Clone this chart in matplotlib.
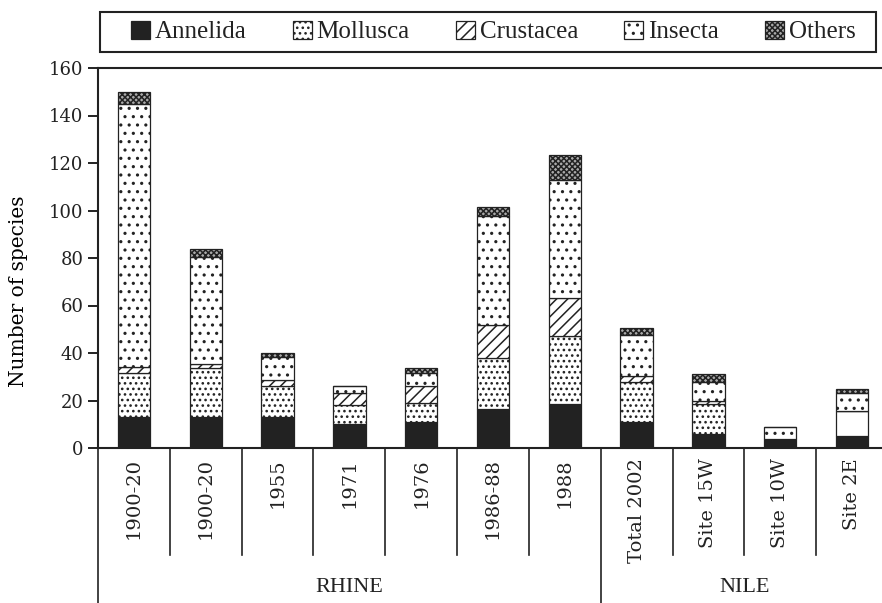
import numpy as np
import matplotlib
matplotlib.use('Agg')
import matplotlib.pyplot as plt
from matplotlib.patches import Rectangle

plt.rcParams.update({'font.family': 'serif',
                     'font.serif': ['DejaVu Serif', 'Liberation Serif'],
                     'hatch.linewidth': 1.1,
                     'text.color': '#222222',
                     'axes.edgecolor': '#222222',
                     'xtick.color': '#222222',
                     'ytick.color': '#222222'})

# data
samples = ['1900-20', '1900-20', '1955', '1971', '1976', '1986-88', '1988',
           'Total 2002', 'Site 15W', 'Site 10W', 'Site 2E']
rivers = ['RHINE', 'NILE']
river_sizes = [7, 4]
annelida = [13, 13, 13, 10, 11, 16.5, 18.5, 11, 6, 4, 5]
mollusca = [18.5, 20.5, 13, 8, 8, 21.5, 28.5, 17, 12.5, 0, 10.5]
crustacea = [2.5, 2, 2.5, 5, 7, 14, 16, 2.5, 1.5, 0, 0]
insecta = [111, 45, 10, 3, 5.5, 45.5, 50, 17, 8, 5, 7.5]
others = [5, 3.5, 1.5, 0, 2, 4, 10.5, 3, 3, 0, 2]

series = [('Annelida', annelida, '#222222', ''),
          ('Mollusca', mollusca, 'white', '...'),
          ('Crustacea', crustacea, 'white', '///'),
          ('Insecta', insecta, 'white', '..'),
          ('Others', others, '#aaaaaa', 'xxxxxx')]

narrow = 'Liberation Serif'

fig = plt.figure(figsize=(8.82, 6.03), dpi=100)
ax = fig.add_axes([98/882, 155/603, 790/882, 380/603])

x = np.arange(len(samples))
bottom = np.zeros(len(samples))
handles = []
for name, vals, fc, hatch in series:
    vals = np.array(vals, dtype=float)
    bars = ax.bar(x, vals, 0.45, bottom=bottom, color=fc, edgecolor='#222222',
                  hatch=hatch, linewidth=0.9, label=name)
    handles.append(bars)
    bottom += vals

# the Site 2E mollusc block is left blank in the original
handles[1][10].set_hatch('')

ax.set_xlim(-0.5, len(samples) - 0.5)
ax.set_ylim(0, 160)
ax.set_yticks(np.arange(0, 161, 20))
ax.set_ylabel('Number of species', fontsize=14.5)
ax.yaxis.set_label_coords(-0.089, 0.413)
ax.tick_params(axis='y', labelsize=13, length=7, width=1.4, direction='out')
ax.set_xticks([])
for s in ['left', 'bottom', 'top', 'right']:
    ax.spines[s].set_linewidth(1.5)

# category table under the axis
tr = ax.get_xaxis_transform()
for i, lab in enumerate(samples):
    ax.text(i, -0.026, lab, rotation=90, ha='center', va='top',
            fontsize=14, transform=tr)
edges = np.concatenate([[0], np.cumsum(river_sizes)]) - 0.5
for b in np.arange(len(samples) + 1) - 0.5:
    low = -0.41 if b in edges else -0.282
    ax.plot([b, b], [0, low], color='#222222', lw=1.2, transform=tr,
            clip_on=False)
for r, lo, hi in zip(rivers, edges[:-1], edges[1:]):
    ax.text((lo + hi) / 2, -0.368, r, ha='center', va='center',
            fontsize=16, family=narrow, transform=tr)

# legend in a box across the top
fig.add_artist(Rectangle((100/882, 1 - 52/603), 776/882, 40/603,
                         transform=fig.transFigure, fill=False,
                         edgecolor='#222222', lw=1.5))
fig.legend(handles=handles, loc='center left', ncol=5,
           bbox_to_anchor=(131/882, 1 - 32/603), frameon=False,
           handlelength=0.75, handleheight=0.75, handletextpad=0.2,
           columnspacing=1.85, borderpad=0, borderaxespad=0,
           prop={'family': narrow, 'size': 18})

fig.savefig('out.png', dpi=100)
